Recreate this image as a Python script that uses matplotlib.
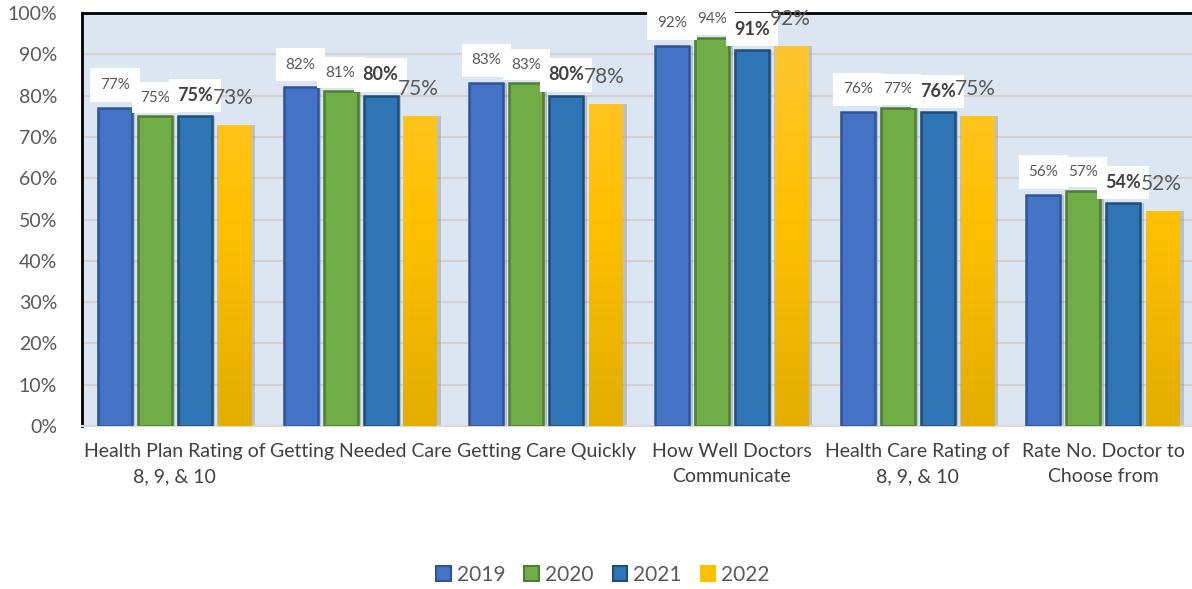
import matplotlib
matplotlib.use("Agg")
import matplotlib.pyplot as plt
import numpy as np
from matplotlib.patches import Patch
from matplotlib.colors import LinearSegmentedColormap

plt.rcParams['font.family'] = ['Lato', 'DejaVu Sans']

categories = ["Health Plan Rating of\n8, 9, & 10", "Getting Needed Care", "Getting Care Quickly",
              "How Well Doctors\nCommunicate", "Health Care Rating of\n8, 9, & 10",
              "Rate No. Doctor to\nChoose from"]
years = ["2019", "2020", "2021", "2022"]
v2019 = [77, 82, 83, 92, 76, 56]
v2020 = [75, 81, 83, 94, 77, 57]
v2021 = [75, 80, 80, 91, 76, 54]
v2022 = [73, 75, 78, 92, 75, 52]
series = [v2019, v2020, v2021, v2022]

faces = ["#4472C4", "#70AD47", "#2E75B6", "#FFC000"]
edges = ["#2F5597", "#507E32", "#1F4E79", "none"]

fig = plt.figure(figsize=(11.92, 5.89), dpi=100)
ax = fig.add_axes([82/1192, (589-426)/589, 1 - 82/1192, 413/589])
ax.set_facecolor("#DCE6F2")

x = np.arange(len(categories))
step = 0.215
width = 0.183
offsets = [-1.5*step, -0.5*step, 0.5*step, 1.5*step]

ax.set_ylim(0, 100)
ax.set_xlim(-0.5, -0.5 + 1110/185.7)
ax.set_yticks(np.arange(0, 101, 10))
ax.set_yticklabels([f"{t}%" for t in range(0, 101, 10)])
ax.yaxis.grid(True, color="#D5D0CE", linewidth=1.5)
ax.set_axisbelow(True)
ax.tick_params(axis='y', length=0, labelsize=14, labelcolor="#595959", pad=18)
ax.set_xticks(x)
ax.set_xticklabels(categories, fontsize=14, color="#404040", linespacing=1.6)
ax.tick_params(axis='x', length=0, pad=12)

for s in ["top", "left"]:
    ax.spines[s].set_color("black")
    ax.spines[s].set_linewidth(2)
ax.spines["right"].set_visible(False)
ax.spines["bottom"].set_color("#D9D9D9")
ax.spines["bottom"].set_linewidth(1.5)

gold = LinearSegmentedColormap.from_list("gold", ["#E3AE00", "#FFC000", "#FFC73A"])

for i, vals in enumerate(series):
    xs = x + offsets[i]
    # shadows
    ax.bar(xs + 0.008, vals, width + 0.022, color="#8C96A0", alpha=0.45, zorder=2, linewidth=0)
    if i < 3:
        ax.bar(xs, vals, width, color=faces[i], edgecolor=edges[i], linewidth=1.8, zorder=3)
    else:
        bars = ax.bar(xs, vals, width, color="none", linewidth=0, zorder=3)
        grad = np.linspace(0, 1, 256).reshape(-1, 1)
        for b, v in zip(bars, vals):
            im = ax.imshow(grad, cmap=gold, origin="lower", aspect="auto",
                           extent=[b.get_x(), b.get_x() + b.get_width(), 0, 100],
                           vmin=0, vmax=1, zorder=3)
            im.set_clip_path(b)

# data labels
for i, vals in enumerate(series):
    xs = x + offsets[i]
    for xi, v in zip(xs, vals):
        if i == 0:
            ax.text(xi, v + 5.5, f"{v}%", ha="center", va="center", fontsize=11, color="#595959",
                    zorder=5, bbox=dict(facecolor="white", edgecolor="none", pad=7))
        elif i == 1:
            ax.text(xi, v + 4.5, f"{v}%", ha="center", va="center", fontsize=11, color="#595959",
                    zorder=6, bbox=dict(facecolor="white", edgecolor="none", pad=6))
        elif i == 2:
            ax.text(xi, v + 5, f"{v}%", ha="center", va="center", fontsize=13, fontweight="bold",
                    color="#404040", zorder=7, bbox=dict(facecolor="white", edgecolor="none", pad=6))
        else:
            ax.text(xi - 0.01, v + 6.5, f"{v}%", ha="center", va="center", fontsize=15,
                    color="#595959", zorder=8)

handles = [Patch(facecolor=faces[i], edgecolor=edges[i] if edges[i] != "none" else faces[i],
                 linewidth=1.5) for i in range(4)]
fig.legend(handles, years, loc="center", bbox_to_anchor=(0.506, 14/589), ncol=4,
           frameon=False, fontsize=15, labelcolor="#595959", handlelength=0.7, handleheight=0.7,
           handletextpad=0.3, columnspacing=0.9)

fig.savefig("out.png", dpi=100)
